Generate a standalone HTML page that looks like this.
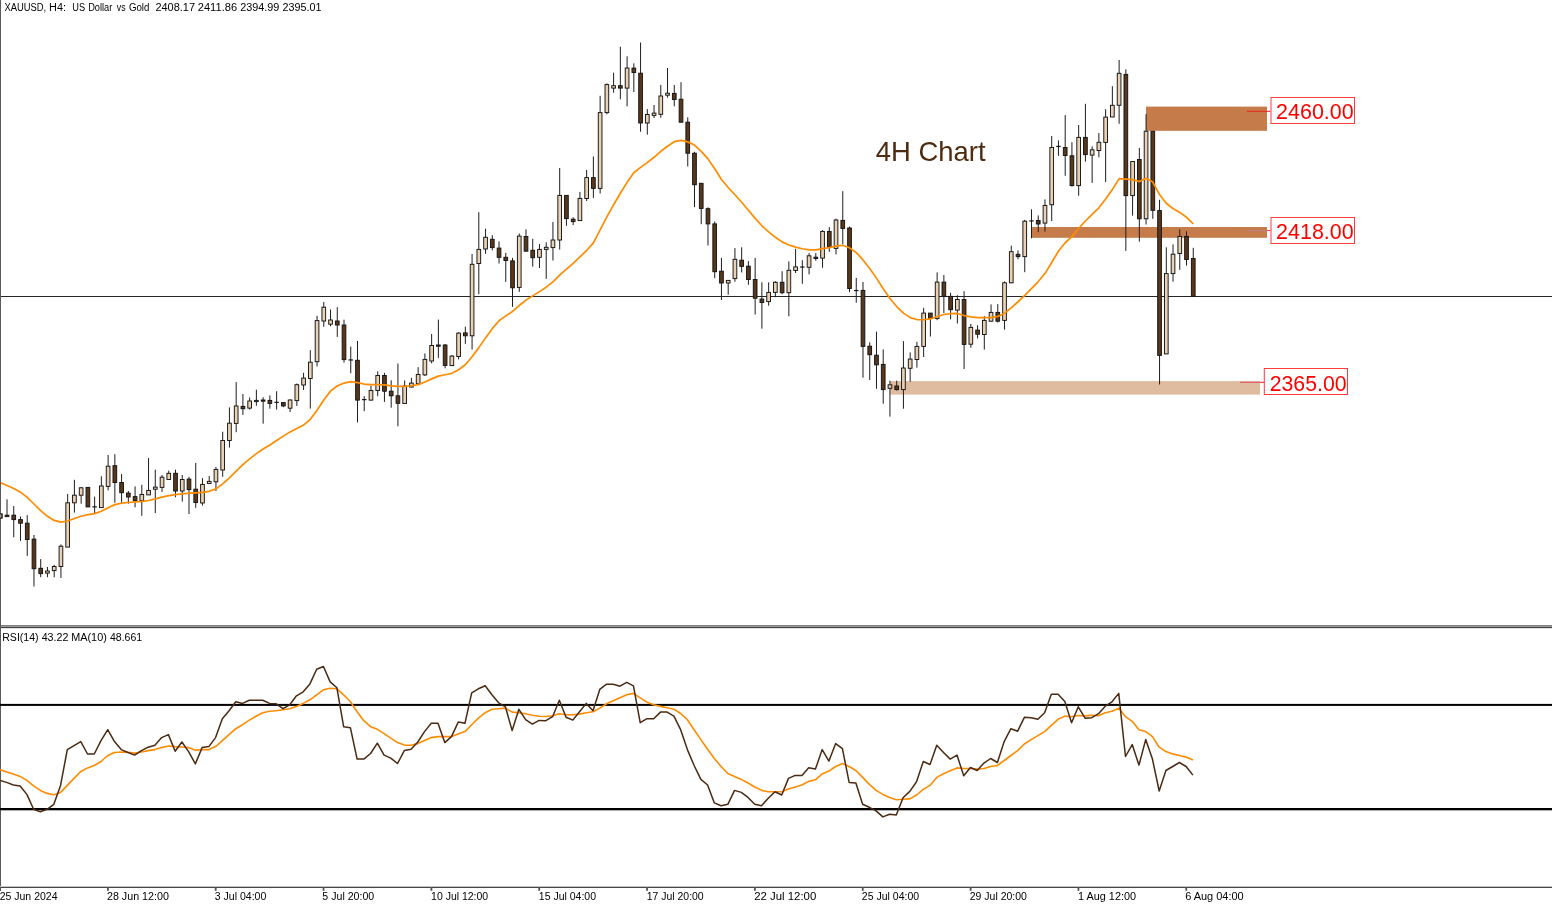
<!DOCTYPE html>
<html><head><meta charset="utf-8"><title>XAUUSD H4</title>
<style>html,body{margin:0;padding:0;background:#fff;}body{width:1552px;height:904px;overflow:hidden;position:relative;font-family:"Liberation Sans",sans-serif;}</style>
</head><body>
<svg width="1552" height="904" viewBox="0 0 1552 904" style="position:absolute;left:0;top:0;will-change:transform">
<rect x="0" y="0" width="1552" height="904" fill="#ffffff"/>
<rect x="1146" y="106.6" width="121" height="24.2" fill="#c67c4a"/>
<rect x="1031.4" y="227" width="235.6" height="10.8" fill="#c67c4a"/>
<rect x="890.2" y="381.1" width="369.8" height="13.5" fill="#dfbca0"/>
<rect x="0" y="296" width="1552" height="1" fill="#262626"/>
<line x1="1247" y1="111.3" x2="1270.5" y2="111.3" stroke="#e8231c" stroke-width="1"/>
<line x1="1247" y1="230.6" x2="1267" y2="230.6" stroke="#c08088" stroke-width="1"/>
<line x1="1267" y1="230.6" x2="1270.5" y2="230.6" stroke="#f03030" stroke-width="1"/>
<line x1="1240" y1="382.3" x2="1260" y2="382.3" stroke="#e0506a" stroke-width="1"/>
<line x1="1260" y1="382.3" x2="1264.5" y2="382.3" stroke="#ff1414" stroke-width="1"/>
<path d="M0.27 512.0V519.0 M7.01 499.3V516.8 M13.75 506.0V537.3 M20.49 516.5V540.9 M27.23 515.2V555.9 M33.97 535.0V586.5 M40.71 559.1V577.2 M47.45 567.0V577.2 M54.19 564.8V577.2 M60.93 544.4V578.0 M67.67 494.0V547.1 M74.41 479.8V512.6 M81.15 486.9V503.7 M87.89 487.4V507.0 M94.63 496.6V513.5 M101.37 476.3V507.6 M108.11 455.0V490.4 M114.85 454.2V502.8 M121.59 474.0V502.8 M128.33 491.0V503.7 M135.07 486.4V507.3 M141.81 484.8V515.8 M148.55 457.9V494.9 M155.29 469.7V513.1 M162.03 475.0V491.9 M168.77 470.6V479.5 M175.51 469.7V497.2 M182.25 475.0V501.6 M188.99 476.8V514.0 M195.73 463.0V507.8 M202.47 478.2V505.5 M209.21 476.0V483.5 M215.95 467.0V491.0 M222.69 431.7V476.8 M229.43 407.4V447.6 M236.17 382.1V432.2 M242.91 394.0V414.9 M249.65 397.5V409.6 M256.39 389.7V405.7 M263.13 397.2V423.7 M269.87 395.4V408.7 M276.61 391.2V409.5 M283.35 402.4V407.2 M290.09 399.4V412.1 M296.83 383.5V405.9 M303.57 372.8V390.0 M310.31 350.2V408.6 M317.05 315.7V366.5 M323.79 302.0V326.8 M330.53 309.5V326.3 M337.27 307.2V336.9 M344.01 319.7V362.6 M350.75 346.6V373.2 M357.49 341.0V422.4 M364.23 396.2V411.2 M370.97 385.6V400.6 M377.71 371.4V396.2 M384.45 372.8V401.9 M391.19 380.3V407.7 M397.93 363.5V426.3 M404.67 380.5V403.5 M411.41 377.8V387.5 M418.15 367.2V383.8 M424.89 353.5V376.0 M431.63 334.0V363.4 M438.37 319.6V357.9 M445.11 344.0V368.3 M451.85 355.0V366.0 M458.59 332.2V359.4 M465.33 326.7V343.9 M472.07 254.0V349.5 M478.81 212.2V294.2 M485.55 228.7V253.8 M492.29 235.2V250.3 M499.03 241.4V263.5 M505.77 252.9V281.8 M512.51 257.9V306.9 M519.25 233.5V291.9 M525.99 229.4V251.2 M532.73 238.8V266.7 M539.47 244.1V268.0 M546.21 242.3V278.9 M552.95 222.0V260.5 M559.69 168.0V249.6 M566.43 195.4V225.8 M573.17 217.3V225.0 M579.91 191.9V220.6 M586.65 170.0V201.0 M593.39 156.5V198.0 M600.13 95.8V193.5 M606.87 83.4V114.3 M613.61 72.7V92.7 M620.35 46.7V99.3 M627.09 56.3V106.4 M633.83 63.3V92.0 M640.57 42.5V131.8 M647.31 109.1V134.7 M654.05 105.0V118.0 M660.79 84.9V117.7 M667.53 68.0V97.6 M674.27 85.0V106.3 M681.01 82.2V122.2 M687.75 117.4V166.5 M694.49 151.8V207.2 M701.23 183.3V224.2 M707.97 207.3V245.5 M714.71 221.5V278.2 M721.45 257.9V300.0 M728.19 280.0V294.7 M734.93 248.1V281.8 M741.67 247.3V272.4 M748.41 261.1V284.8 M755.15 257.9V314.5 M761.89 282.3V328.7 M768.63 282.3V305.7 M775.37 281.2V297.2 M782.11 271.2V294.2 M788.85 261.4V316.3 M795.59 248.8V273.0 M802.33 260.2V283.8 M809.07 253.1V274.4 M815.81 253.1V260.8 M822.55 230.1V267.8 M829.29 227.1V251.9 M836.03 218.6V254.4 M842.77 191.2V244.3 M849.51 226.6V292.1 M856.25 277.9V302.7 M862.99 282.0V377.7 M869.73 342.3V380.0 M876.47 331.7V388.8 M883.21 349.4V403.7 M889.95 380.7V416.6 M896.69 380.7V390.6 M903.43 341.1V408.7 M910.17 352.4V381.8 M916.91 341.8V367.6 M923.65 307.8V357.0 M930.39 313.1V336.5 M937.13 272.4V320.2 M943.87 275.0V313.1 M950.61 292.8V319.4 M957.35 295.2V323.5 M964.09 291.2V369.0 M970.83 323.9V347.8 M977.57 325.3V338.4 M984.31 315.9V349.6 M991.05 304.4V321.8 M997.79 304.1V322.5 M1004.53 281.4V329.6 M1011.27 245.7V283.2 M1018.01 250.4V259.3 M1024.75 219.8V272.2 M1031.49 209.3V238.3 M1038.23 215.4V232.2 M1044.97 199.4V231.6 M1051.71 136.0V221.0 M1058.45 140.4V155.8 M1065.19 115.1V175.8 M1071.93 142.2V186.5 M1078.67 125.0V195.8 M1085.41 103.8V161.7 M1092.15 146.3V182.9 M1098.89 133.0V157.3 M1105.63 109.2V182.0 M1112.37 86.2V117.0 M1119.11 60.0V123.8 M1125.85 69.4V250.9 M1132.59 161.0V215.7 M1139.33 147.9V241.6 M1146.07 114.2V224.5 M1152.81 131.2V218.8 M1159.55 199.8V384.5 M1166.29 247.3V353.9 M1173.03 244.4V281.7 M1179.77 229.4V269.8 M1186.51 231.3V265.5 M1193.25 247.8V296.2" stroke="#1e1e1e" stroke-width="1" fill="none"/>
<rect x="-1.58" y="514.0" width="3.7" height="4.0" fill="#ead1b3" stroke="#141414" stroke-width="0.95"/>
<rect x="5.16" y="515.2" width="3.7" height="1.4" fill="#58371b" stroke="#141414" stroke-width="0.95"/>
<rect x="11.90" y="515.2" width="3.7" height="4.4" fill="#58371b" stroke="#141414" stroke-width="0.95"/>
<rect x="18.64" y="519.6" width="3.7" height="3.6" fill="#58371b" stroke="#141414" stroke-width="0.95"/>
<rect x="25.38" y="523.2" width="3.7" height="16.3" fill="#58371b" stroke="#141414" stroke-width="0.95"/>
<rect x="32.12" y="539.1" width="3.7" height="29.6" fill="#58371b" stroke="#141414" stroke-width="0.95"/>
<rect x="38.86" y="568.3" width="3.7" height="5.3" fill="#58371b" stroke="#141414" stroke-width="0.95"/>
<rect x="45.60" y="571.0" width="3.7" height="2.1" fill="#ead1b3" stroke="#141414" stroke-width="0.95"/>
<rect x="52.34" y="566.5" width="3.7" height="4.1" fill="#ead1b3" stroke="#141414" stroke-width="0.95"/>
<rect x="59.08" y="546.2" width="3.7" height="20.3" fill="#ead1b3" stroke="#141414" stroke-width="0.95"/>
<rect x="65.82" y="502.8" width="3.7" height="44.3" fill="#ead1b3" stroke="#141414" stroke-width="0.95"/>
<rect x="72.56" y="495.2" width="3.7" height="7.6" fill="#ead1b3" stroke="#141414" stroke-width="0.95"/>
<rect x="79.30" y="487.8" width="3.7" height="7.4" fill="#ead1b3" stroke="#141414" stroke-width="0.95"/>
<rect x="86.04" y="487.4" width="3.7" height="19.5" fill="#58371b" stroke="#141414" stroke-width="0.95"/>
<rect x="92.43" y="506.25" width="4.4" height="1.2" fill="#141414"/>
<rect x="99.52" y="486.0" width="3.7" height="21.6" fill="#ead1b3" stroke="#141414" stroke-width="0.95"/>
<rect x="106.26" y="466.2" width="3.7" height="20.2" fill="#ead1b3" stroke="#141414" stroke-width="0.95"/>
<rect x="113.00" y="465.7" width="3.7" height="16.8" fill="#58371b" stroke="#141414" stroke-width="0.95"/>
<rect x="119.74" y="482.5" width="3.7" height="10.2" fill="#58371b" stroke="#141414" stroke-width="0.95"/>
<rect x="126.48" y="493.1" width="3.7" height="3.9" fill="#58371b" stroke="#141414" stroke-width="0.95"/>
<rect x="133.22" y="496.6" width="3.7" height="3.9" fill="#58371b" stroke="#141414" stroke-width="0.95"/>
<rect x="139.96" y="494.5" width="3.7" height="6.2" fill="#ead1b3" stroke="#141414" stroke-width="0.95"/>
<rect x="146.70" y="490.4" width="3.7" height="4.5" fill="#ead1b3" stroke="#141414" stroke-width="0.95"/>
<rect x="153.44" y="487.1" width="3.7" height="2.1" fill="#ead1b3" stroke="#141414" stroke-width="0.95"/>
<rect x="160.18" y="477.2" width="3.7" height="10.2" fill="#ead1b3" stroke="#141414" stroke-width="0.95"/>
<rect x="166.92" y="473.3" width="3.7" height="6.2" fill="#ead1b3" stroke="#141414" stroke-width="0.95"/>
<rect x="173.66" y="473.3" width="3.7" height="17.7" fill="#58371b" stroke="#141414" stroke-width="0.95"/>
<rect x="180.40" y="479.5" width="3.7" height="11.5" fill="#ead1b3" stroke="#141414" stroke-width="0.95"/>
<rect x="187.14" y="479.1" width="3.7" height="10.5" fill="#58371b" stroke="#141414" stroke-width="0.95"/>
<rect x="193.88" y="489.2" width="3.7" height="13.3" fill="#58371b" stroke="#141414" stroke-width="0.95"/>
<rect x="200.62" y="484.4" width="3.7" height="18.6" fill="#ead1b3" stroke="#141414" stroke-width="0.95"/>
<rect x="207.36" y="481.4" width="3.7" height="2.1" fill="#ead1b3" stroke="#141414" stroke-width="0.95"/>
<rect x="214.10" y="469.4" width="3.7" height="12.4" fill="#ead1b3" stroke="#141414" stroke-width="0.95"/>
<rect x="220.84" y="440.5" width="3.7" height="29.5" fill="#ead1b3" stroke="#141414" stroke-width="0.95"/>
<rect x="227.58" y="423.2" width="3.7" height="17.3" fill="#ead1b3" stroke="#141414" stroke-width="0.95"/>
<rect x="234.32" y="406.0" width="3.7" height="17.4" fill="#ead1b3" stroke="#141414" stroke-width="0.95"/>
<rect x="241.06" y="406.4" width="3.7" height="2.3" fill="#58371b" stroke="#141414" stroke-width="0.95"/>
<rect x="247.80" y="401.0" width="3.7" height="7.1" fill="#ead1b3" stroke="#141414" stroke-width="0.95"/>
<rect x="254.54" y="400.4" width="3.7" height="1.2" fill="#ead1b3" stroke="#141414" stroke-width="0.95"/>
<rect x="261.28" y="400.0" width="3.7" height="1.2" fill="#58371b" stroke="#141414" stroke-width="0.95"/>
<rect x="268.02" y="400.4" width="3.7" height="3.0" fill="#58371b" stroke="#141414" stroke-width="0.95"/>
<rect x="274.41" y="401.75" width="4.4" height="1.2" fill="#141414"/>
<rect x="281.50" y="402.6" width="3.7" height="3.3" fill="#58371b" stroke="#141414" stroke-width="0.95"/>
<rect x="288.24" y="400.0" width="3.7" height="8.2" fill="#ead1b3" stroke="#141414" stroke-width="0.95"/>
<rect x="294.98" y="384.7" width="3.7" height="15.9" fill="#ead1b3" stroke="#141414" stroke-width="0.95"/>
<rect x="301.72" y="378.1" width="3.7" height="6.9" fill="#ead1b3" stroke="#141414" stroke-width="0.95"/>
<rect x="308.46" y="362.2" width="3.7" height="16.3" fill="#ead1b3" stroke="#141414" stroke-width="0.95"/>
<rect x="315.20" y="320.6" width="3.7" height="41.1" fill="#ead1b3" stroke="#141414" stroke-width="0.95"/>
<rect x="321.94" y="307.2" width="3.7" height="13.8" fill="#ead1b3" stroke="#141414" stroke-width="0.95"/>
<rect x="328.68" y="320.0" width="3.7" height="4.2" fill="#ead1b3" stroke="#141414" stroke-width="0.95"/>
<rect x="335.42" y="321.0" width="3.7" height="4.0" fill="#58371b" stroke="#141414" stroke-width="0.95"/>
<rect x="342.16" y="325.0" width="3.7" height="34.6" fill="#58371b" stroke="#141414" stroke-width="0.95"/>
<rect x="348.55" y="359.35" width="4.4" height="1.2" fill="#141414"/>
<rect x="355.64" y="360.3" width="3.7" height="39.8" fill="#58371b" stroke="#141414" stroke-width="0.95"/>
<rect x="362.03" y="399.00" width="4.4" height="1.2" fill="#141414"/>
<rect x="369.12" y="390.5" width="3.7" height="9.6" fill="#ead1b3" stroke="#141414" stroke-width="0.95"/>
<rect x="375.86" y="375.5" width="3.7" height="15.0" fill="#ead1b3" stroke="#141414" stroke-width="0.95"/>
<rect x="382.60" y="375.5" width="3.7" height="15.7" fill="#58371b" stroke="#141414" stroke-width="0.95"/>
<rect x="389.34" y="391.2" width="3.7" height="4.6" fill="#58371b" stroke="#141414" stroke-width="0.95"/>
<rect x="396.08" y="395.8" width="3.7" height="7.5" fill="#58371b" stroke="#141414" stroke-width="0.95"/>
<rect x="402.82" y="386.0" width="3.7" height="17.5" fill="#ead1b3" stroke="#141414" stroke-width="0.95"/>
<rect x="409.56" y="383.1" width="3.7" height="3.9" fill="#ead1b3" stroke="#141414" stroke-width="0.95"/>
<rect x="416.30" y="374.5" width="3.7" height="9.3" fill="#ead1b3" stroke="#141414" stroke-width="0.95"/>
<rect x="423.04" y="359.4" width="3.7" height="15.5" fill="#ead1b3" stroke="#141414" stroke-width="0.95"/>
<rect x="429.78" y="345.5" width="3.7" height="15.5" fill="#ead1b3" stroke="#141414" stroke-width="0.95"/>
<rect x="436.52" y="345.0" width="3.7" height="1.2" fill="#58371b" stroke="#141414" stroke-width="0.95"/>
<rect x="443.26" y="345.0" width="3.7" height="20.4" fill="#58371b" stroke="#141414" stroke-width="0.95"/>
<rect x="450.00" y="356.1" width="3.7" height="9.5" fill="#ead1b3" stroke="#141414" stroke-width="0.95"/>
<rect x="456.74" y="333.1" width="3.7" height="23.4" fill="#ead1b3" stroke="#141414" stroke-width="0.95"/>
<rect x="463.48" y="332.9" width="3.7" height="2.9" fill="#58371b" stroke="#141414" stroke-width="0.95"/>
<rect x="470.22" y="264.3" width="3.7" height="71.5" fill="#ead1b3" stroke="#141414" stroke-width="0.95"/>
<rect x="476.96" y="249.4" width="3.7" height="14.1" fill="#ead1b3" stroke="#141414" stroke-width="0.95"/>
<rect x="483.70" y="237.3" width="3.7" height="11.7" fill="#ead1b3" stroke="#141414" stroke-width="0.95"/>
<rect x="490.44" y="239.3" width="3.7" height="8.3" fill="#58371b" stroke="#141414" stroke-width="0.95"/>
<rect x="497.18" y="248.1" width="3.7" height="9.2" fill="#58371b" stroke="#141414" stroke-width="0.95"/>
<rect x="503.92" y="257.3" width="3.7" height="3.2" fill="#58371b" stroke="#141414" stroke-width="0.95"/>
<rect x="510.66" y="260.9" width="3.7" height="26.9" fill="#58371b" stroke="#141414" stroke-width="0.95"/>
<rect x="517.40" y="236.1" width="3.7" height="51.3" fill="#ead1b3" stroke="#141414" stroke-width="0.95"/>
<rect x="524.14" y="236.5" width="3.7" height="14.7" fill="#58371b" stroke="#141414" stroke-width="0.95"/>
<rect x="530.88" y="250.3" width="3.7" height="7.4" fill="#58371b" stroke="#141414" stroke-width="0.95"/>
<rect x="537.62" y="249.4" width="3.7" height="7.9" fill="#ead1b3" stroke="#141414" stroke-width="0.95"/>
<rect x="544.36" y="247.3" width="3.7" height="2.1" fill="#ead1b3" stroke="#141414" stroke-width="0.95"/>
<rect x="551.10" y="240.0" width="3.7" height="7.6" fill="#ead1b3" stroke="#141414" stroke-width="0.95"/>
<rect x="557.84" y="195.4" width="3.7" height="44.6" fill="#ead1b3" stroke="#141414" stroke-width="0.95"/>
<rect x="564.58" y="195.4" width="3.7" height="23.2" fill="#58371b" stroke="#141414" stroke-width="0.95"/>
<rect x="571.32" y="219.2" width="3.7" height="2.4" fill="#58371b" stroke="#141414" stroke-width="0.95"/>
<rect x="578.06" y="198.4" width="3.7" height="22.2" fill="#ead1b3" stroke="#141414" stroke-width="0.95"/>
<rect x="584.80" y="177.6" width="3.7" height="20.9" fill="#ead1b3" stroke="#141414" stroke-width="0.95"/>
<rect x="591.54" y="177.6" width="3.7" height="10.8" fill="#58371b" stroke="#141414" stroke-width="0.95"/>
<rect x="598.28" y="112.6" width="3.7" height="75.8" fill="#ead1b3" stroke="#141414" stroke-width="0.95"/>
<rect x="605.02" y="84.6" width="3.7" height="28.0" fill="#ead1b3" stroke="#141414" stroke-width="0.95"/>
<rect x="611.76" y="85.7" width="3.7" height="2.4" fill="#ead1b3" stroke="#141414" stroke-width="0.95"/>
<rect x="618.50" y="85.7" width="3.7" height="2.4" fill="#58371b" stroke="#141414" stroke-width="0.95"/>
<rect x="625.24" y="68.0" width="3.7" height="20.1" fill="#ead1b3" stroke="#141414" stroke-width="0.95"/>
<rect x="631.98" y="68.1" width="3.7" height="4.4" fill="#58371b" stroke="#141414" stroke-width="0.95"/>
<rect x="638.72" y="73.2" width="3.7" height="49.8" fill="#58371b" stroke="#141414" stroke-width="0.95"/>
<rect x="645.46" y="114.5" width="3.7" height="8.5" fill="#ead1b3" stroke="#141414" stroke-width="0.95"/>
<rect x="652.20" y="113.1" width="3.7" height="2.3" fill="#ead1b3" stroke="#141414" stroke-width="0.95"/>
<rect x="658.94" y="96.0" width="3.7" height="18.3" fill="#ead1b3" stroke="#141414" stroke-width="0.95"/>
<rect x="665.68" y="93.2" width="3.7" height="2.0" fill="#ead1b3" stroke="#141414" stroke-width="0.95"/>
<rect x="672.42" y="93.4" width="3.7" height="6.1" fill="#58371b" stroke="#141414" stroke-width="0.95"/>
<rect x="679.16" y="99.2" width="3.7" height="23.0" fill="#58371b" stroke="#141414" stroke-width="0.95"/>
<rect x="685.90" y="122.2" width="3.7" height="31.0" fill="#58371b" stroke="#141414" stroke-width="0.95"/>
<rect x="692.64" y="153.2" width="3.7" height="31.5" fill="#58371b" stroke="#141414" stroke-width="0.95"/>
<rect x="699.38" y="183.3" width="3.7" height="25.1" fill="#58371b" stroke="#141414" stroke-width="0.95"/>
<rect x="706.12" y="208.7" width="3.7" height="15.2" fill="#58371b" stroke="#141414" stroke-width="0.95"/>
<rect x="712.86" y="223.9" width="3.7" height="47.8" fill="#58371b" stroke="#141414" stroke-width="0.95"/>
<rect x="719.60" y="271.2" width="3.7" height="11.8" fill="#58371b" stroke="#141414" stroke-width="0.95"/>
<rect x="726.34" y="280.4" width="3.7" height="2.6" fill="#ead1b3" stroke="#141414" stroke-width="0.95"/>
<rect x="733.08" y="259.3" width="3.7" height="19.3" fill="#ead1b3" stroke="#141414" stroke-width="0.95"/>
<rect x="739.82" y="260.2" width="3.7" height="6.2" fill="#58371b" stroke="#141414" stroke-width="0.95"/>
<rect x="746.56" y="266.2" width="3.7" height="13.3" fill="#58371b" stroke="#141414" stroke-width="0.95"/>
<rect x="753.30" y="279.5" width="3.7" height="18.7" fill="#58371b" stroke="#141414" stroke-width="0.95"/>
<rect x="760.04" y="299.1" width="3.7" height="3.4" fill="#58371b" stroke="#141414" stroke-width="0.95"/>
<rect x="766.78" y="292.4" width="3.7" height="9.2" fill="#ead1b3" stroke="#141414" stroke-width="0.95"/>
<rect x="773.52" y="282.3" width="3.7" height="10.1" fill="#ead1b3" stroke="#141414" stroke-width="0.95"/>
<rect x="780.26" y="282.3" width="3.7" height="10.4" fill="#58371b" stroke="#141414" stroke-width="0.95"/>
<rect x="787.00" y="270.3" width="3.7" height="22.4" fill="#ead1b3" stroke="#141414" stroke-width="0.95"/>
<rect x="793.74" y="266.9" width="3.7" height="3.6" fill="#ead1b3" stroke="#141414" stroke-width="0.95"/>
<rect x="800.13" y="266.45" width="4.4" height="1.2" fill="#141414"/>
<rect x="807.22" y="255.8" width="3.7" height="11.5" fill="#ead1b3" stroke="#141414" stroke-width="0.95"/>
<rect x="813.96" y="257.2" width="3.7" height="1.3" fill="#58371b" stroke="#141414" stroke-width="0.95"/>
<rect x="820.70" y="231.4" width="3.7" height="26.7" fill="#ead1b3" stroke="#141414" stroke-width="0.95"/>
<rect x="827.44" y="231.4" width="3.7" height="15.6" fill="#58371b" stroke="#141414" stroke-width="0.95"/>
<rect x="834.18" y="220.0" width="3.7" height="28.4" fill="#ead1b3" stroke="#141414" stroke-width="0.95"/>
<rect x="840.92" y="220.4" width="3.7" height="8.0" fill="#58371b" stroke="#141414" stroke-width="0.95"/>
<rect x="847.66" y="228.0" width="3.7" height="60.5" fill="#58371b" stroke="#141414" stroke-width="0.95"/>
<rect x="854.05" y="289.95" width="4.4" height="1.2" fill="#141414"/>
<rect x="861.14" y="290.4" width="3.7" height="56.0" fill="#58371b" stroke="#141414" stroke-width="0.95"/>
<rect x="867.88" y="346.2" width="3.7" height="8.5" fill="#58371b" stroke="#141414" stroke-width="0.95"/>
<rect x="874.62" y="355.2" width="3.7" height="9.6" fill="#58371b" stroke="#141414" stroke-width="0.95"/>
<rect x="881.36" y="364.4" width="3.7" height="25.2" fill="#58371b" stroke="#141414" stroke-width="0.95"/>
<rect x="888.10" y="384.8" width="3.7" height="3.5" fill="#ead1b3" stroke="#141414" stroke-width="0.95"/>
<rect x="894.84" y="386.0" width="3.7" height="3.6" fill="#58371b" stroke="#141414" stroke-width="0.95"/>
<rect x="901.58" y="368.0" width="3.7" height="21.6" fill="#ead1b3" stroke="#141414" stroke-width="0.95"/>
<rect x="908.32" y="359.1" width="3.7" height="9.2" fill="#ead1b3" stroke="#141414" stroke-width="0.95"/>
<rect x="915.06" y="346.4" width="3.7" height="13.1" fill="#ead1b3" stroke="#141414" stroke-width="0.95"/>
<rect x="921.80" y="313.1" width="3.7" height="33.3" fill="#ead1b3" stroke="#141414" stroke-width="0.95"/>
<rect x="928.54" y="313.1" width="3.7" height="5.3" fill="#58371b" stroke="#141414" stroke-width="0.95"/>
<rect x="935.28" y="282.1" width="3.7" height="36.3" fill="#ead1b3" stroke="#141414" stroke-width="0.95"/>
<rect x="942.02" y="282.1" width="3.7" height="14.2" fill="#58371b" stroke="#141414" stroke-width="0.95"/>
<rect x="948.76" y="296.4" width="3.7" height="13.3" fill="#58371b" stroke="#141414" stroke-width="0.95"/>
<rect x="955.50" y="299.5" width="3.7" height="10.6" fill="#ead1b3" stroke="#141414" stroke-width="0.95"/>
<rect x="962.24" y="299.5" width="3.7" height="44.9" fill="#58371b" stroke="#141414" stroke-width="0.95"/>
<rect x="968.98" y="327.4" width="3.7" height="16.8" fill="#ead1b3" stroke="#141414" stroke-width="0.95"/>
<rect x="975.72" y="330.1" width="3.7" height="4.1" fill="#58371b" stroke="#141414" stroke-width="0.95"/>
<rect x="982.46" y="320.4" width="3.7" height="14.1" fill="#ead1b3" stroke="#141414" stroke-width="0.95"/>
<rect x="989.20" y="312.4" width="3.7" height="8.8" fill="#ead1b3" stroke="#141414" stroke-width="0.95"/>
<rect x="995.94" y="312.4" width="3.7" height="8.8" fill="#58371b" stroke="#141414" stroke-width="0.95"/>
<rect x="1002.68" y="282.8" width="3.7" height="37.6" fill="#ead1b3" stroke="#141414" stroke-width="0.95"/>
<rect x="1009.42" y="251.7" width="3.7" height="31.1" fill="#ead1b3" stroke="#141414" stroke-width="0.95"/>
<rect x="1016.16" y="254.3" width="3.7" height="2.3" fill="#58371b" stroke="#141414" stroke-width="0.95"/>
<rect x="1022.90" y="221.2" width="3.7" height="35.4" fill="#ead1b3" stroke="#141414" stroke-width="0.95"/>
<rect x="1029.29" y="220.35" width="4.4" height="1.2" fill="#141414"/>
<rect x="1036.38" y="220.5" width="3.7" height="3.5" fill="#58371b" stroke="#141414" stroke-width="0.95"/>
<rect x="1043.12" y="205.4" width="3.7" height="17.7" fill="#ead1b3" stroke="#141414" stroke-width="0.95"/>
<rect x="1049.86" y="147.5" width="3.7" height="57.2" fill="#ead1b3" stroke="#141414" stroke-width="0.95"/>
<rect x="1056.25" y="145.85" width="4.4" height="1.2" fill="#141414"/>
<rect x="1063.34" y="147.5" width="3.7" height="8.0" fill="#58371b" stroke="#141414" stroke-width="0.95"/>
<rect x="1070.08" y="155.8" width="3.7" height="29.8" fill="#58371b" stroke="#141414" stroke-width="0.95"/>
<rect x="1076.82" y="137.4" width="3.7" height="48.2" fill="#ead1b3" stroke="#141414" stroke-width="0.95"/>
<rect x="1083.56" y="137.4" width="3.7" height="17.2" fill="#58371b" stroke="#141414" stroke-width="0.95"/>
<rect x="1090.30" y="149.8" width="3.7" height="5.3" fill="#ead1b3" stroke="#141414" stroke-width="0.95"/>
<rect x="1097.04" y="142.3" width="3.7" height="8.2" fill="#ead1b3" stroke="#141414" stroke-width="0.95"/>
<rect x="1103.78" y="117.1" width="3.7" height="25.3" fill="#ead1b3" stroke="#141414" stroke-width="0.95"/>
<rect x="1110.52" y="105.3" width="3.7" height="11.7" fill="#ead1b3" stroke="#141414" stroke-width="0.95"/>
<rect x="1117.26" y="73.3" width="3.7" height="32.0" fill="#ead1b3" stroke="#141414" stroke-width="0.95"/>
<rect x="1124.00" y="74.4" width="3.7" height="121.2" fill="#58371b" stroke="#141414" stroke-width="0.95"/>
<rect x="1130.74" y="161.5" width="3.7" height="34.1" fill="#ead1b3" stroke="#141414" stroke-width="0.95"/>
<rect x="1137.48" y="159.5" width="3.7" height="59.3" fill="#58371b" stroke="#141414" stroke-width="0.95"/>
<rect x="1144.22" y="131.2" width="3.7" height="87.6" fill="#ead1b3" stroke="#141414" stroke-width="0.95"/>
<rect x="1150.96" y="131.2" width="3.7" height="79.1" fill="#58371b" stroke="#141414" stroke-width="0.95"/>
<rect x="1157.70" y="210.6" width="3.7" height="144.8" fill="#58371b" stroke="#141414" stroke-width="0.95"/>
<rect x="1164.44" y="273.6" width="3.7" height="80.3" fill="#ead1b3" stroke="#141414" stroke-width="0.95"/>
<rect x="1171.18" y="254.2" width="3.7" height="19.4" fill="#ead1b3" stroke="#141414" stroke-width="0.95"/>
<rect x="1177.92" y="236.5" width="3.7" height="17.0" fill="#ead1b3" stroke="#141414" stroke-width="0.95"/>
<rect x="1184.66" y="236.5" width="3.7" height="23.0" fill="#58371b" stroke="#141414" stroke-width="0.95"/>
<rect x="1191.40" y="258.5" width="3.7" height="37.7" fill="#58371b" stroke="#141414" stroke-width="0.95"/>
<polyline points="0.27,482.61 7.01,485.45 13.75,488.53 20.49,492.15 27.23,497.35 33.97,503.99 40.71,510.64 47.45,516.32 54.19,520.41 60.93,522.06 67.67,520.98 74.41,518.48 81.15,516.26 87.89,514.67 94.63,513.67 101.37,511.24 108.11,507.79 114.85,504.61 121.59,503.20 128.33,502.51 135.07,501.97 141.81,501.34 148.55,500.50 155.29,498.93 162.03,497.17 168.77,495.57 175.51,494.64 182.25,493.87 188.99,493.18 195.73,492.82 202.47,492.40 209.21,491.32 215.95,488.92 222.69,483.82 229.43,477.88 236.17,471.18 242.91,464.56 249.65,458.91 256.39,453.66 263.13,449.07 269.87,444.91 276.61,440.55 283.35,436.11 290.09,431.89 296.83,428.54 303.57,425.04 310.31,419.36 317.05,410.28 323.79,399.95 330.53,391.14 337.27,385.96 344.01,383.07 350.75,381.69 357.49,382.54 364.23,384.06 370.97,384.63 377.71,384.70 384.45,384.93 391.19,385.87 397.93,386.42 404.67,386.37 411.41,385.74 418.15,384.59 424.89,381.96 431.63,378.87 438.37,376.10 445.11,374.76 451.85,373.32 458.59,369.74 465.33,364.75 472.07,356.70 478.81,347.62 485.55,337.88 492.29,328.65 499.03,320.71 505.77,315.85 512.51,311.45 519.25,305.53 525.99,300.15 532.73,295.88 539.47,291.63 546.21,287.20 552.95,281.89 559.69,275.16 566.43,269.15 573.17,263.32 579.91,256.98 586.65,250.44 593.39,242.82 600.13,229.83 606.87,216.82 613.61,204.70 620.35,193.29 627.09,182.35 633.83,172.74 640.57,167.34 647.31,162.67 654.05,157.27 660.79,151.30 667.53,146.24 674.27,141.71 681.01,140.43 687.75,141.86 694.49,145.04 701.23,151.33 707.97,158.86 714.71,168.68 721.45,179.49 728.19,187.52 734.93,194.78 741.67,202.21 748.41,210.26 755.15,218.41 761.89,225.76 768.63,231.93 775.37,237.31 782.11,241.88 788.85,244.94 795.59,247.11 802.33,248.73 809.07,249.96 815.81,249.91 822.55,248.65 829.29,247.65 836.03,246.07 842.77,245.25 849.51,247.83 856.25,252.56 862.99,259.90 869.73,268.53 876.47,278.13 883.21,288.68 889.95,298.47 896.69,306.56 903.43,313.15 910.17,317.66 916.91,319.53 923.65,319.73 930.39,318.93 937.13,316.50 943.87,314.53 950.61,313.58 957.35,313.44 964.09,315.56 970.83,316.93 977.57,317.58 984.31,317.70 991.05,317.55 997.79,316.45 1004.53,313.23 1011.27,307.90 1018.01,301.75 1024.75,295.38 1031.49,288.65 1038.23,281.57 1044.97,273.57 1051.71,262.48 1058.45,251.19 1065.19,242.75 1071.93,236.59 1078.67,228.49 1085.41,221.00 1092.15,214.47 1098.89,207.81 1105.63,199.02 1112.37,189.61 1119.11,178.61 1125.85,179.07 1132.59,179.62 1139.33,181.58 1146.07,178.27 1152.81,182.05 1159.55,194.59 1166.29,203.26 1173.03,208.61 1179.77,212.43 1186.51,217.28 1193.25,223.80" fill="none" stroke="#ff8c00" stroke-width="1.7" stroke-linejoin="round"/>
<rect x="0" y="625" width="1552" height="1" fill="#828282"/>
<rect x="0" y="626" width="1552" height="1" fill="#999999"/>
<rect x="0" y="627" width="1552" height="1" fill="#404040"/>
<rect x="0" y="628" width="1552" height="1" fill="#e4e4e4"/>
<rect x="0" y="0" width="1" height="891" fill="#5a5a5a"/>
<rect x="-1.82" y="514" width="3.7" height="4" fill="#b8a48e" stroke="#141414" stroke-width="0.95"/>
<rect x="0" y="703.9" width="1552" height="2.0" fill="#000"/>
<rect x="0" y="808.0" width="1552" height="2.3" fill="#000"/>
<polyline points="-0.10,769.5 6.64,771.9 13.38,773.9 20.12,776.4 26.86,780.4 33.60,785.8 40.34,790.4 47.08,793.4 53.82,794.8 60.56,792.4 67.30,785.4 74.04,778.4 80.78,771.5 87.52,767.9 94.26,765.5 101.00,761.5 107.74,755.5 114.48,752.5 121.22,752.0 127.96,752.2 134.70,753.1 141.44,752.0 148.18,750.6 154.92,749.6 161.66,747.6 168.40,746.0 175.14,746.6 181.88,747.0 188.62,747.6 195.36,750.2 202.10,749.6 208.84,749.6 215.58,746.6 222.32,740.6 229.06,734.6 235.80,728.7 242.54,724.7 249.28,720.1 256.02,716.3 262.76,712.7 269.50,711.3 276.24,710.7 282.98,709.7 289.72,708.7 296.46,706.4 303.20,703.4 309.94,699.8 316.68,694.8 323.42,689.8 330.16,688.2 336.90,688.8 343.64,694.8 350.38,701.8 357.12,711.7 363.86,720.7 370.60,726.7 377.34,729.3 384.08,733.6 390.82,738.2 397.56,742.6 404.30,745.1 411.04,745.2 417.78,743.6 424.52,740.6 431.26,737.6 438.00,736.6 444.74,736.6 451.48,736.6 458.22,734.0 464.96,731.6 471.70,724.7 478.44,718.1 485.18,712.7 491.92,709.3 498.66,708.7 505.40,708.1 512.14,712.1 518.88,712.7 525.62,713.7 532.36,715.3 539.10,716.3 545.84,716.5 552.58,715.7 559.32,713.7 566.06,714.7 572.80,714.7 579.54,714.1 586.28,712.7 593.02,711.7 599.76,708.1 606.50,703.8 613.24,700.8 619.98,697.8 626.72,694.8 633.46,693.4 640.20,697.8 646.94,702.2 653.68,704.8 660.42,706.4 667.16,707.7 673.90,709.2 680.64,713.5 687.38,719.7 694.12,729.7 700.86,739.6 707.60,749.2 714.34,758.5 721.08,766.5 727.82,773.5 734.56,776.4 741.30,779.4 748.04,783.0 754.78,787.0 761.52,790.4 768.26,791.8 775.00,791.8 781.74,791.8 788.48,789.0 795.22,787.0 801.96,785.0 808.70,781.4 815.44,779.8 822.18,773.9 828.92,771.1 835.66,766.5 842.40,763.5 849.14,766.5 855.88,770.5 862.62,777.4 869.36,784.4 876.10,790.4 882.84,794.4 889.58,797.4 896.32,799.7 903.06,799.3 909.80,798.9 916.54,795.0 923.28,789.4 930.02,785.4 936.76,777.4 943.50,773.8 950.24,770.8 956.98,767.9 963.72,768.5 970.46,768.5 977.20,769.1 983.94,768.5 990.68,766.5 997.42,765.5 1004.16,760.5 1010.90,755.5 1017.64,750.6 1024.38,744.0 1031.12,739.6 1037.86,735.6 1044.60,731.6 1051.34,725.3 1058.08,719.3 1064.82,716.1 1071.56,716.7 1078.30,715.5 1085.04,715.9 1091.78,715.3 1098.52,715.7 1105.26,712.7 1112.00,711.3 1118.74,708.1 1125.48,716.7 1132.22,721.3 1138.96,729.7 1145.70,731.6 1152.44,736.6 1159.18,747.2 1165.92,751.6 1172.66,753.9 1179.40,755.5 1186.14,757.1 1192.88,760.1" fill="none" stroke="#ff8c00" stroke-width="1.6" stroke-linejoin="round"/>
<polyline points="-0.10,780.4 6.64,782.4 13.38,785.0 20.12,786.0 26.86,794.4 33.60,809.3 40.34,811.7 47.08,809.3 53.82,804.3 60.56,785.4 67.30,749.6 74.04,745.6 80.78,741.6 87.52,754.0 94.26,754.0 101.00,740.6 107.74,729.7 114.48,741.6 121.22,749.6 127.96,752.5 134.70,755.1 141.44,750.6 148.18,747.2 154.92,745.2 161.66,737.6 168.40,734.6 175.14,751.2 181.88,742.0 188.62,751.6 195.36,763.9 202.10,747.6 208.84,746.6 215.58,737.6 222.32,718.7 229.06,710.7 235.80,701.8 242.54,703.4 249.28,700.2 256.02,700.2 262.76,700.2 269.50,703.4 276.24,703.8 282.98,708.7 289.72,704.8 296.46,695.8 303.20,691.8 309.94,683.9 316.68,669.3 323.42,666.5 330.16,681.9 336.90,687.8 343.64,726.7 350.38,727.7 357.12,759.1 363.86,759.1 370.60,753.5 377.34,743.2 384.08,755.1 390.82,758.1 397.56,763.5 404.30,750.6 411.04,749.2 417.78,742.0 424.52,731.6 431.26,723.3 438.00,723.3 444.74,742.6 451.48,736.6 458.22,722.1 464.96,723.3 471.70,692.8 478.44,688.8 485.18,685.8 491.92,694.8 498.66,702.8 505.40,706.8 512.14,730.6 518.88,709.3 525.62,719.7 532.36,724.1 539.10,720.4 545.84,720.7 552.58,716.7 559.32,700.2 566.06,717.3 572.80,720.1 579.54,711.7 586.28,703.4 593.02,710.7 599.76,689.4 606.50,684.2 613.24,684.2 619.98,686.2 626.72,682.3 633.46,685.8 640.20,722.7 646.94,718.7 653.68,718.7 660.42,712.1 667.16,712.1 673.90,716.1 680.64,729.7 687.38,749.6 694.12,765.5 700.86,779.4 707.60,785.0 714.34,802.9 721.08,805.7 727.82,804.3 734.56,790.4 741.30,792.4 748.04,797.4 754.78,804.3 761.52,805.7 768.26,798.3 775.00,791.8 781.74,795.0 788.48,778.4 795.22,775.4 801.96,775.4 808.70,767.7 815.44,769.1 822.18,749.6 828.92,761.1 835.66,743.6 842.40,748.6 849.14,782.4 855.88,783.0 862.62,804.3 869.36,807.3 876.10,810.9 882.84,816.9 889.58,814.3 896.32,814.9 903.06,797.7 909.80,791.4 916.54,781.8 923.28,761.5 930.02,764.5 936.76,745.2 943.50,752.5 950.24,759.1 956.98,755.1 963.72,775.8 970.46,767.5 977.20,770.5 983.94,763.1 990.68,758.5 997.42,762.5 1004.16,741.6 1010.90,728.7 1017.64,731.2 1024.38,717.3 1031.12,717.7 1037.86,719.3 1044.60,712.7 1051.34,694.2 1058.08,694.2 1064.82,701.4 1071.56,722.7 1078.30,706.8 1085.04,718.2 1091.78,717.7 1098.52,713.7 1105.26,706.2 1112.00,701.8 1118.74,693.4 1125.48,756.5 1132.22,744.6 1138.96,765.1 1145.70,739.6 1152.44,759.1 1159.18,791.0 1165.92,770.5 1172.66,766.5 1179.40,762.5 1186.14,766.5 1192.88,775.1" fill="none" stroke="#4b2a12" stroke-width="1.5" stroke-linejoin="round"/>
<rect x="0" y="886" width="1552" height="1" fill="#c4c4c4"/>
<rect x="0" y="887" width="1552" height="1" fill="#464646"/>
<rect x="-0.87" y="887" width="1.8" height="3.8" fill="#555"/>
<rect x="106.97" y="887" width="1.8" height="3.8" fill="#555"/>
<rect x="214.81" y="887" width="1.8" height="3.8" fill="#555"/>
<rect x="322.65" y="887" width="1.8" height="3.8" fill="#555"/>
<rect x="430.49" y="887" width="1.8" height="3.8" fill="#555"/>
<rect x="538.33" y="887" width="1.8" height="3.8" fill="#555"/>
<rect x="646.17" y="887" width="1.8" height="3.8" fill="#555"/>
<rect x="754.01" y="887" width="1.8" height="3.8" fill="#555"/>
<rect x="861.85" y="887" width="1.8" height="3.8" fill="#555"/>
<rect x="969.69" y="887" width="1.8" height="3.8" fill="#555"/>
<rect x="1077.53" y="887" width="1.8" height="3.8" fill="#555"/>
<rect x="1185.37" y="887" width="1.8" height="3.8" fill="#555"/>
<text x="-0.33" y="899.9" font-family="Liberation Sans" font-size="10.0" fill="#000" textLength="57.84" lengthAdjust="spacingAndGlyphs">25 Jun 2024</text>
<text x="106.96" y="899.9" font-family="Liberation Sans" font-size="10.0" fill="#000" textLength="61.96" lengthAdjust="spacingAndGlyphs">28 Jun 12:00</text>
<text x="214.80" y="899.9" font-family="Liberation Sans" font-size="10.0" fill="#000" textLength="51.51" lengthAdjust="spacingAndGlyphs">3 Jul 04:00</text>
<text x="322.38" y="899.9" font-family="Liberation Sans" font-size="10.0" fill="#000" textLength="51.84" lengthAdjust="spacingAndGlyphs">5 Jul 20:00</text>
<text x="431.10" y="899.9" font-family="Liberation Sans" font-size="10.0" fill="#000" textLength="57.11" lengthAdjust="spacingAndGlyphs">10 Jul 12:00</text>
<text x="538.80" y="899.9" font-family="Liberation Sans" font-size="10.0" fill="#000" textLength="57.21" lengthAdjust="spacingAndGlyphs">15 Jul 04:00</text>
<text x="646.70" y="899.9" font-family="Liberation Sans" font-size="10.0" fill="#000" textLength="57.01" lengthAdjust="spacingAndGlyphs">17 Jul 20:00</text>
<text x="754.23" y="899.9" font-family="Liberation Sans" font-size="10.0" fill="#000" textLength="62.02" lengthAdjust="spacingAndGlyphs">22 Jul 12:00</text>
<text x="861.87" y="899.9" font-family="Liberation Sans" font-size="10.0" fill="#000" textLength="57.34" lengthAdjust="spacingAndGlyphs">25 Jul 04:00</text>
<text x="969.77" y="899.9" font-family="Liberation Sans" font-size="10.0" fill="#000" textLength="57.14" lengthAdjust="spacingAndGlyphs">29 Jul 20:00</text>
<text x="1078.08" y="899.9" font-family="Liberation Sans" font-size="10.0" fill="#000" textLength="57.94" lengthAdjust="spacingAndGlyphs">1 Aug 12:00</text>
<text x="1185.15" y="899.9" font-family="Liberation Sans" font-size="10.0" fill="#000" textLength="58.58" lengthAdjust="spacingAndGlyphs">6 Aug 04:00</text>
<text x="4.39" y="10.9" font-family="Liberation Sans" font-size="10.0" fill="#000" textLength="41.75" lengthAdjust="spacingAndGlyphs">XAUUSD,</text>
<text x="49.11" y="10.9" font-family="Liberation Sans" font-size="10.0" fill="#000" textLength="16.88" lengthAdjust="spacingAndGlyphs">H4:</text>
<text x="72.29" y="10.9" font-family="Liberation Sans" font-size="10.0" fill="#000" textLength="12.84" lengthAdjust="spacingAndGlyphs">US</text>
<text x="88.14" y="10.9" font-family="Liberation Sans" font-size="10.0" fill="#000" textLength="24.11" lengthAdjust="spacingAndGlyphs">Dollar</text>
<text x="116.77" y="10.9" font-family="Liberation Sans" font-size="10.0" fill="#000" textLength="8.75" lengthAdjust="spacingAndGlyphs">vs</text>
<text x="128.91" y="10.9" font-family="Liberation Sans" font-size="10.0" fill="#000" textLength="20.51" lengthAdjust="spacingAndGlyphs">Gold</text>
<text x="155.45" y="10.9" font-family="Liberation Sans" font-size="10.0" fill="#000" textLength="39.60" lengthAdjust="spacingAndGlyphs">2408.17</text>
<text x="197.75" y="10.9" font-family="Liberation Sans" font-size="10.0" fill="#000" textLength="39.33" lengthAdjust="spacingAndGlyphs">2411.86</text>
<text x="240.16" y="10.9" font-family="Liberation Sans" font-size="10.0" fill="#000" textLength="39.16" lengthAdjust="spacingAndGlyphs">2394.99</text>
<text x="282.46" y="10.9" font-family="Liberation Sans" font-size="10.0" fill="#000" textLength="38.97" lengthAdjust="spacingAndGlyphs">2395.01</text>
<text x="2.23" y="640.5" font-family="Liberation Sans" font-size="10.0" fill="#000" textLength="36.42" lengthAdjust="spacingAndGlyphs">RSI(14)</text>
<text x="41.65" y="640.5" font-family="Liberation Sans" font-size="10.0" fill="#000" textLength="26.78" lengthAdjust="spacingAndGlyphs">43.22</text>
<text x="71.31" y="640.5" font-family="Liberation Sans" font-size="10.0" fill="#000" textLength="35.46" lengthAdjust="spacingAndGlyphs">MA(10)</text>
<text x="109.96" y="640.5" font-family="Liberation Sans" font-size="10.0" fill="#000" textLength="32.15" lengthAdjust="spacingAndGlyphs">48.661</text>
<text x="875.77" y="160.8" font-family="Liberation Sans" font-size="27.8" fill="#4f2c10" textLength="109.83" lengthAdjust="spacingAndGlyphs">4H Chart</text>
<rect x="1271.0" y="97.5" width="83.5" height="26" fill="#fff" stroke="#ff3a3a" stroke-width="1"/>
<text x="1276.12" y="119.2" font-family="Liberation Sans" font-size="22.2" fill="#ff0000" textLength="77.52" lengthAdjust="spacingAndGlyphs">2460.00</text>
<rect x="1271.0" y="217.5" width="83.5" height="26" fill="#fff" stroke="#ff3a3a" stroke-width="1"/>
<text x="1276.12" y="238.8" font-family="Liberation Sans" font-size="22.2" fill="#ff0000" textLength="77.52" lengthAdjust="spacingAndGlyphs">2418.00</text>
<rect x="1264.3" y="368.5" width="83.20000000000005" height="26" fill="#fff" stroke="#ff3a3a" stroke-width="1"/>
<text x="1269.63" y="390.5" font-family="Liberation Sans" font-size="22.2" fill="#ff0000" textLength="77.00" lengthAdjust="spacingAndGlyphs">2365.00</text>
</svg>
</body></html>
